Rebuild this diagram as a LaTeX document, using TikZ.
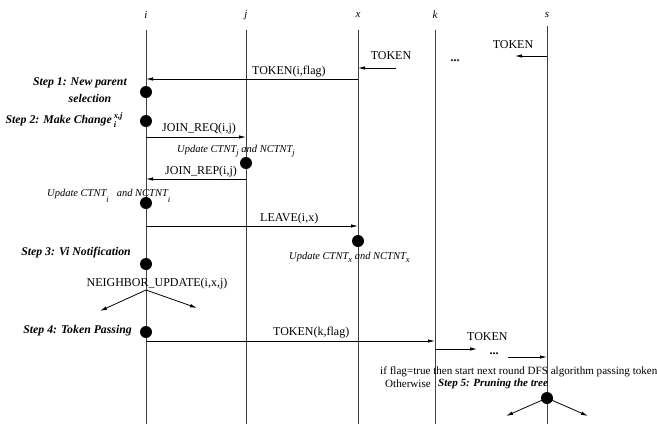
\documentclass[tikz,border=0pt]{standalone}
\usepackage{fontspec}
\setmainfont{Liberation Serif}
\usetikzlibrary{arrows.meta}
\newcommand\lsub[1]{\raisebox{-3pt}{\fontsize{8.5}{9}\selectfont #1}}
\newcommand\lsubb[1]{\raisebox{-6pt}{\fontsize{8.5}{9}\selectfont #1}}
\begin{document}
\begin{tikzpicture}[x=1pt,y=-1pt,
  life/.style={draw=black!75,line width=0.9pt},
  msg/.style={-{Latex[length=7pt,width=3.5pt]},line width=0.8pt},
  lbl/.style={font=\fontsize{12}{14}\selectfont,inner sep=0pt},
  longlbl/.style={font=\fontsize{11.1}{13}\selectfont,inner sep=0pt},
  steplbl/.style={font=\fontsize{11.8}{14}\selectfont\bfseries\itshape,inner sep=0pt},
  upd/.style={font=\fontsize{10.5}{12}\selectfont\itshape,inner sep=0pt},
  head/.style={font=\fontsize{11}{13}\selectfont\itshape,inner sep=0pt},
  dot/.style={circle,fill=black,minimum size=12pt,inner sep=0pt}]
\useasboundingbox (0,0) rectangle (657,424);

% headers
\node[head] (hi) at (146,15) {i};
\node[head] (hj) at (246,15) {j};
\node[head] (hx) at (358,15) {x};
\node[head] (hk) at (435,15) {k};
\node[head] (hs) at (547,15) {s};

% lifelines
\coordinate (ti) at (146,30); \coordinate (bi) at (146,424);
\coordinate (tj) at (246,30); \coordinate (bj) at (246,424);
\coordinate (tx) at (358,30); \coordinate (bx) at (358,424);
\coordinate (tk) at (435,30); \coordinate (bk) at (435,424);
\coordinate (ts) at (547,26); \coordinate (bs) at (547,424);
\draw[life] (ti) -- (bi);
\draw[life] (tj) -- (bj);
\draw[life] (tx) -- (bx);
\draw[life] (tk) -- (bk);
\draw[life] (ts) -- (bs);

% token arriving
\coordinate (a1s) at (547,56); \coordinate (a1e) at (515,56);
\draw[msg] (a1s) -- (a1e);
\node[lbl] (l1) at (513,45) {TOKEN};
\coordinate (a2s) at (396,68); \coordinate (a2e) at (358,68);
\draw[msg] (a2s) -- (a2e);
\node[lbl] (l2) at (391,56) {TOKEN};
\node[lbl] (dots1) at (455,61) {\textbf{...}};

\coordinate (a3s) at (358,79); \coordinate (a3e) at (146,79);
\draw[msg] (a3s) -- (a3e);
\node[lbl,anchor=west] (l3) at (252,72) {TOKEN(i,flag)};

% step 1
\node[steplbl,anchor=east] (s1a) at (127,83) {Step 1: New parent};
\node[steplbl] (s1b) at (90,98) {selection};
\node[dot] (d1) at (146,92) {};

% step 2
\node[steplbl,anchor=east] (s2) at (112,120) {Step 2: Make Change\rlap{\,\raisebox{5pt}{\fontsize{8.5}{9}\selectfont x,j}}\rlap{\,\raisebox{-4pt}{\fontsize{8.5}{9}\selectfont i}}};
\node[dot] (d2) at (146,121) {};

\coordinate (a4s) at (146,137); \coordinate (a4e) at (246,137);
\draw[msg] (a4s) -- (a4e);
\node[lbl,anchor=west] (l4) at (162,129) {JOIN\_REQ(i,j)};

\node[upd,anchor=west] (u1) at (177,151) {Update CTNT\lsub{j} and NCTNT\lsub{j}};
\node[dot] (d3) at (246,163) {};

\coordinate (a5s) at (246,179); \coordinate (a5e) at (146,179);
\draw[msg] (a5s) -- (a5e);
\node[lbl,anchor=west] (l5) at (165,172) {JOIN\_REP(i,j)};

\node[upd,anchor=west] (u2) at (47,196) {Update CTNT\lsubb{i}\hspace{8pt}and NCTNT\lsubb{i}};
\node[dot] (d4) at (146,203) {};

\coordinate (a6s) at (146,226); \coordinate (a6e) at (358,226);
\draw[msg] (a6s) -- (a6e);
\node[lbl,anchor=west] (l6) at (260,219) {LEAVE(i,x)};

\node[dot] (d5) at (358,241) {};
\node[upd,anchor=west] (u3) at (289,257) {Update CTNT\lsub{x} and NCTNT\lsub{x}};

% step 3
\node[steplbl,anchor=east] (s3) at (131,253) {Step 3: Vi Notification};
\node[dot] (d6) at (146,264) {};
\node[lbl] (l7) at (157,284) {NEIGHBOR\_UPDATE(i,x,j)};
\coordinate (nu) at (146,290);
\coordinate (nl) at (100,311);
\coordinate (nr) at (197,308);
\draw[msg] (nu) -- (nl);
\draw[msg] (nu) -- (nr);

% step 4
\node[steplbl,anchor=east] (s4) at (132,331) {Step 4: Token Passing};
\node[dot] (d7) at (146,332) {};
\coordinate (a7s) at (146,341); \coordinate (a7e) at (435,341);
\draw[msg] (a7s) -- (a7e);
\node[lbl,anchor=west] (l8) at (273,333) {TOKEN(k,flag)};

\coordinate (a8s) at (435,349); \coordinate (a8e) at (477,349);
\draw[msg] (a8s) -- (a8e);
\node[lbl,anchor=west] (l9) at (467,337) {TOKEN};
\node[lbl] (dots2) at (494,354) {\textbf{...}};
\coordinate (a9s) at (508,357); \coordinate (a9e) at (547,357);
\draw[msg] (a9s) -- (a9e);

\node[longlbl,anchor=west] (l10) at (380,372) {if flag=true then start next round DFS algorithm passing token};
\node[longlbl,anchor=west] (l11) at (385,384) {Otherwise};
\node[steplbl,anchor=west,font=\fontsize{11}{13}\selectfont\bfseries\itshape] (s5) at (438,384) {Step 5: Pruning the tree};

\node[dot] (d8) at (547,398) {};
\coordinate (pl) at (506,416);
\coordinate (pr) at (588,416);
\draw[msg] (d8.center) -- (pl);
\draw[msg] (d8.center) -- (pr);
\end{tikzpicture}
\end{document}
